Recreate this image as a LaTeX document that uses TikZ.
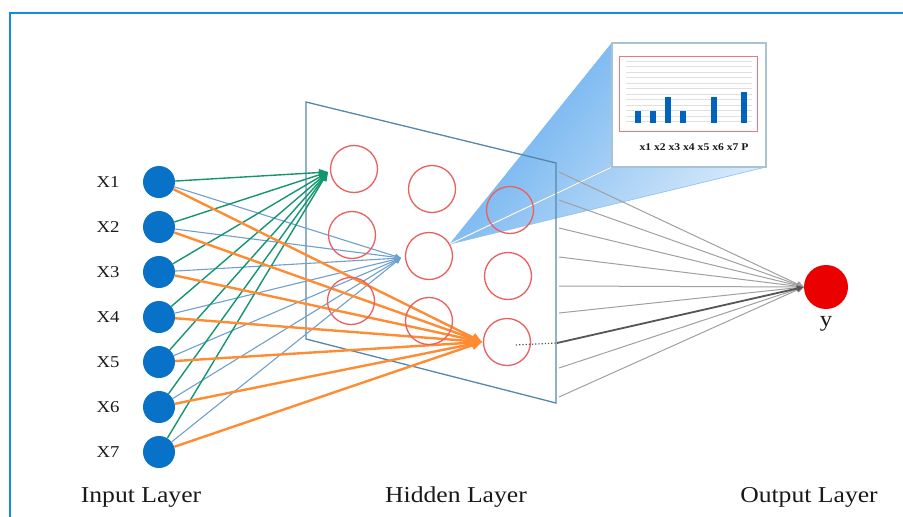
\documentclass[tikz,border=0pt]{standalone}
\usepackage{fontspec}
\usepackage{graphicx}
\setmainfont{Liberation Serif}
\usetikzlibrary{arrows.meta}
\definecolor{frameblue}{RGB}{20,140,220}
\definecolor{inblue}{RGB}{8,114,200}
\definecolor{egreen}{RGB}{18,150,112}
\definecolor{eblue}{RGB}{110,160,205}
\definecolor{eorange}{RGB}{255,140,50}
\definecolor{hidred}{RGB}{236,95,95}
\definecolor{planeblue}{RGB}{85,135,170}
\definecolor{egray}{RGB}{160,160,160}
\definecolor{edark}{RGB}{85,85,85}
\definecolor{outred}{RGB}{235,0,0}
\definecolor{beamdark}{RGB}{95,170,238}
\definecolor{beammid}{RGB}{150,200,245}
\definecolor{beamlight}{RGB}{218,235,251}
\definecolor{boxedge}{RGB}{170,195,210}
\definecolor{barblue}{RGB}{0,100,190}
\definecolor{txt}{RGB}{25,25,25}
\newcommand{\widetxt}[1]{\scalebox{1.13}[1]{#1}}
\begin{document}
\begin{tikzpicture}[x=1pt,y=-1pt,
  inp/.style={circle, fill=inblue, minimum size=32pt, inner sep=0pt},
  hid/.style={circle, draw=hidred, line width=1.3pt, minimum size=47pt, inner sep=0pt},
  outn/.style={circle, fill=outred, minimum size=44pt, inner sep=0pt},
  xlab/.style={text=txt, font=\fontsize{16.6}{18}\selectfont, inner sep=0pt},
  layerlab/.style={text=txt, font=\fontsize{22.7}{25}\selectfont, inner sep=0pt, anchor=base},
  gedge/.style={draw=egreen, line width=1.4pt, -{Triangle[length=9pt,width=7pt]}},
  bedge/.style={draw=eblue, line width=1.1pt, -{Triangle[length=6pt,width=5pt]}},
  oedge/.style={draw=eorange, line width=2.4pt, -{Triangle[length=10pt,width=9pt]}},
  grayedge/.style={draw=egray, line width=1pt, -{Triangle[length=7pt,width=6pt]}},
  darkedge/.style={draw=edark, line width=1.8pt}
]
\useasboundingbox (0,0) rectangle (903,517);
% outer frame
\draw[frameblue, line width=2.5pt] (10,517) -- (10,13) -- (903,13);

% hidden plane (fill)
\coordinate (p1) at (306,102);
\coordinate (p2) at (556,163);
\coordinate (p3) at (556,403);
\coordinate (p4) at (306,339);
\fill[white] (p1) -- (p2) -- (p3) -- (p4) -- cycle;

% zoom beam
\coordinate (apex) at (450,244);
\coordinate (btl) at (612,43);
\coordinate (bbl) at (612,167);
\coordinate (bbr) at (766,167);
\shade[top color=beamdark, middle color=beammid, bottom color=beamlight, shading angle=51]
  (apex) -- (btl) -- (bbl) -- (bbr) -- cycle;
\draw[beamdark!80!white, line width=0.7pt] (apex) -- (btl);
\draw[beamdark!70!white, line width=0.7pt] (apex) -- (bbr);
\draw[boxedge, double=white, double distance=0.8pt, line width=0.5pt] (apex) -- (bbl);

% hidden plane (edges)
\draw[planeblue, line width=1.3pt] (p1) -- (p2) -- (p3) -- (p4) -- cycle;

% input nodes and labels
\foreach \i/\y in {1/182,2/227,3/272,4/317,5/362,6/407,7/452}{
  \node[inp] (x\i) at (159,\y) {};
  \node[xlab] (lx\i) at (108,\y) {\widetxt{X\i}};
}

% targets
\coordinate (tgreen) at (328,172);
\coordinate (tblue) at (401,258);
\coordinate (torange) at (482,342);

\foreach \i in {1,...,7}{
  \draw[bedge] (x\i) -- (tblue);
}
\foreach \i in {1,...,7}{
  \draw[gedge] (x\i) -- (tgreen);
}
\foreach \i in {1,...,7}{
  \draw[oedge] (x\i) -- (torange);
}

% hidden neurons
\node[hid] (h11) at (354,169) {};
\node[hid] (h12) at (352,235) {};
\node[hid] (h13) at (351,301) {};
\node[hid] (h21) at (432,189) {};
\node[hid] (h22) at (429,256) {};
\node[hid] (h23) at (429,321) {};
\node[hid] (h31) at (510,210) {};
\node[hid] (h32) at (508,276) {};
\node[hid] (h33) at (507,342) {};

% output node
\node[outn] (out) at (826,287) {};
\node[text=txt, font=\fontsize{22}{24}\selectfont, inner sep=0pt, anchor=base] (ylab) at (826,326) {\widetxt{y}};

% gray connectors to output
\foreach \k/\y in {1/172,2/200,3/228,4/257,5/286,6/313,8/368,9/397}{
  \coordinate (s\k) at (559,\y);
  \draw[grayedge] (s\k) -- (out.west);
}
\coordinate (d0) at (516,345);
\coordinate (s7) at (557,343);
\draw[edark, line width=1.2pt, dotted] (d0) -- (s7);
\draw[darkedge, -{Triangle[length=7pt,width=6pt]}] (s7) -- (out.west);

% chart box
\node[draw=boxedge, line width=1.5pt, fill=white, minimum width=154pt, minimum height=124pt, inner sep=0pt] (chart) at (689,105) {};
\foreach \g in {0,...,11}{
  \draw[black!12, line width=0.4pt] (626,{61+5.5*\g}) -- (752,{61+5.5*\g});
}
\node[draw=hidred!85!white, line width=1pt, minimum width=138pt, minimum height=75pt, inner sep=0pt] (frame) at (688,93.5) {};
\foreach \bx/\bt in {638/111,653/111,668/97,683/111,714/97,744/92}{
  \fill[barblue] (\bx-2.6,\bt) rectangle (\bx+2.6,123);
}
\node[text=txt, font=\fontsize{10.3}{12}\selectfont\bfseries, inner sep=0pt] (chartlab) at (694,147) {\widetxt{x1 x2 x3 x4 x5 x6 x7 P}};

% layer labels
\node[layerlab] (linput) at (141,502) {\widetxt{Input Layer}};
\node[layerlab] (lhidden) at (456,502) {\widetxt{Hidden Layer}};
\node[layerlab] (loutput) at (809,502) {\widetxt{Output Layer}};
\end{tikzpicture}
\end{document}
